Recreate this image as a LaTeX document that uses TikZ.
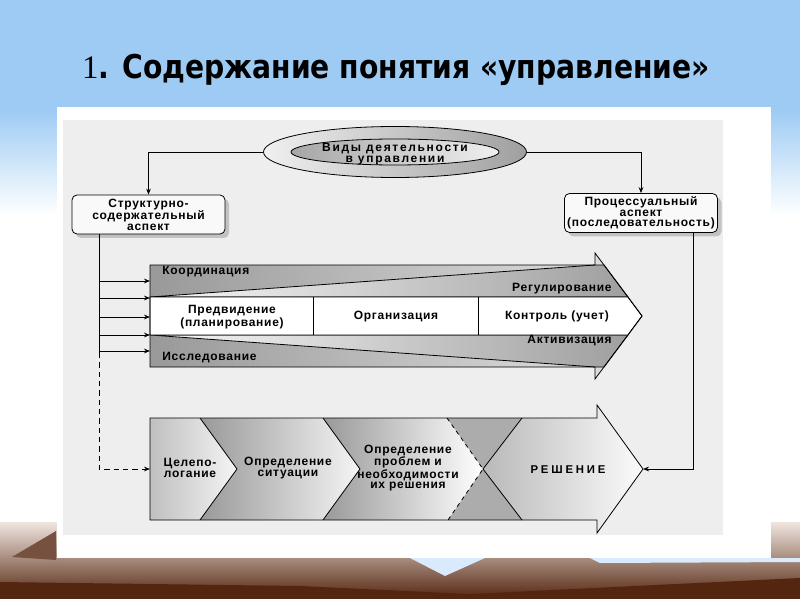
\documentclass[tikz,border=0pt]{standalone}
\usepackage{fontspec}
\setmainfont{Liberation Sans}
\newfontfamily\dfont{Liberation Sans}[LetterSpace=6]
\newfontfamily\dfontw{Liberation Sans}[LetterSpace=14]
\newfontfamily\rfont{Liberation Sans}[LetterSpace=25]
\newfontfamily\tfont{DejaVu Sans}[FakeStretch=0.86]
\newfontfamily\nfont{Liberation Serif}
\usetikzlibrary{arrows.meta,positioning,shapes.geometric,shadows,calc}
\definecolor{sky}{HTML}{9DCBF4}
\definecolor{panelgray}{HTML}{EEEEEE}
\definecolor{brownlt}{HTML}{C29A82}
\definecolor{browndk}{HTML}{55260F}
\newlength\pxu
\setlength\pxu{0.75pt}

\begin{document}
\begin{tikzpicture}[
      x=0.75pt, y=-0.75pt,
      line width=0.6pt,
      lbl/.style={font={\dfont\bfseries\fontsize{9}{7.8}\selectfont}, align=center, inner sep=0pt},
      lblw/.style={font={\dfontw\bfseries\fontsize{9}{7.8}\selectfont}, align=center, inner sep=0pt},
      arr/.style={-{Stealth[length=4.5pt,width=3.5pt]}},
      aspect/.style={lbl, draw, rounded corners=5\pxu, fill=gray!5,
        minimum width=153\pxu, minimum height=39\pxu,
        drop shadow={shadow xshift=3pt, shadow yshift=-3pt, fill=gray!70, opacity=0.6}},
      band/.style={draw}
  ]
    \useasboundingbox (0,0) rectangle (800,599);
    % slide background
    \fill[sky] (0,0) rectangle (800,110);
    \shade[top color=sky, bottom color=white] (0,110) rectangle (800,215);
    \shade[top color=brownlt!25, middle color=brownlt, bottom color=browndk] (0,522) rectangle (800,599);
    \fill[browndk!80] (12,557) -- (56,531) -- (56,560) -- cycle;
    \fill[browndk] (0,582) -- (300,586) -- (470,594) -- (800,578) -- (800,599) -- (0,599) -- cycle;
    \fill[sky!40!white] (410,558) -- (485,558) -- (445,576) -- cycle;
    \fill[sky!40!white] (590,558) -- (800,558) -- (800,562) -- (600,563) -- cycle;
    \fill[white] (57,107) rectangle (771,558);
    \fill[panelgray] (63,120) rectangle (723,535);

    \node[anchor=base, font={\tfont\bfseries\fontsize{24.6}{28}\selectfont}] (title) at (396,79)
      {{\nfont\mdseries 1}. Содержание понятия «управление»};

    % top part
    \node[ellipse, draw, minimum width=263\pxu, minimum height=51\pxu, inner sep=0pt,
          left color=gray!12, right color=gray!75] (vidy) at (395,152) {};
    \node[ellipse, draw, minimum width=208\pxu, minimum height=26\pxu, inner sep=0pt,
          left color=gray!70, right color=gray!12] (vidyin) at (vidy.center) {};
    \node[lblw] (vidytxt) at (395,154) {Виды деятельности\\в управлении};

    \node[aspect] (struct) at (148.5,214.5) {Структурно-\\содержательный\\аспект};
    \node[aspect] (proc) at (641,213) {Процессуальный\\аспект\\(последовательность)};

    \draw[arr] (vidy.west) -| (struct.north);
    \draw[arr] (vidy.east) -| (proc.north);

    % upper arrow
    \coordinate (uaw) at (150,316);
    \shade[left color=gray!80, right color=gray!22] (150,265) -- (595,265) -- (595,253) -- (642,316)
      -- (595,379) -- (595,367) -- (150,367) -- cycle;
    \path[band, left color=gray!6, right color=gray!75] (150,297) -- (595,265) -- (604,265) -- (628,297) -- cycle;
    \path[band, left color=gray!6, right color=gray!75] (150,335) -- (628,335) -- (604,367) -- (595,367) -- cycle;
    \path[band, fill=white] (150,297) -- (628,297) -- (642,316) -- (628,335) -- (150,335) -- cycle;
    \draw (313,297) -- (313,335);
    \draw (478,297) -- (478,335);
    \draw (150,265) -- (595,265) -- (595,253) -- (642,316) -- (595,379) -- (595,367) -- (150,367) -- cycle;

    \node[lbl, anchor=west] (koord) at (162,272) {Координация};
    \node[lbl, anchor=east] (regul) at (612,289) {Регулирование};
    \node[lbl] (predv) at (232,317) {Предвидение\\(планирование)};
    \node[lbl] (organ) at (396,317) {Организация};
    \node[lbl] (kontr) at (557,316) {Контроль (учет)};
    \node[lbl, anchor=east] (aktiv) at (612,341) {Активизация};
    \node[lbl, anchor=west] (issled) at (162,358) {Исследование};

    % lower arrow
    \coordinate (bain) at (150,469);
    \coordinate (batip) at (643,469);
    \path[left color=gray!50, right color=gray!8] (150,418) -- (200,418) -- (237,469) -- (200,520) -- (150,520) -- cycle;
    \path[left color=gray!80, right color=gray!8] (200,418) -- (323,418) -- (360,469) -- (323,520) -- (200,520) -- (237,469) -- cycle;
    \path[left color=gray!80, right color=white] (323,418) -- (447,418) -- (483,469) -- (448,520) -- (323,520) -- (360,469) -- cycle;
    \fill[gray!65] (447,418) -- (522,418) -- (483,469) -- cycle;
    \fill[gray!65] (448,520) -- (522,520) -- (483,469) -- cycle;
    \path[left color=gray!55, right color=gray!3] (522,418) -- (597,418) -- (597,405) -- (643,469)
      -- (597,533) -- (597,520) -- (522,520) -- (483,469) -- cycle;
    \draw (200,418) -- (237,469) -- (200,520);
    \draw (323,418) -- (360,469) -- (323,520);
    \draw[dashed] (447,418) -- (483,469) -- (448,520);
    \draw (522,418) -- (483,469) -- (522,520);
    \draw (150,418) -- (597,418) -- (597,405) -- (643,469) -- (597,533) -- (597,520) -- (150,520) -- cycle;

    \node[lbl] (celep) at (190,468) {Целепо-\\логание};
    \node[lbl] (situac) at (288,468) {Определение\\ситуации};
    \node[lbl] (problem) at (408,468) {Определение\\проблем и\\необходимости\\их решения};
    \node[lbl, font={\rfont\bfseries\fontsize{8.5}{10}\selectfont}] (resh) at (568,470) {РЕШЕНИЕ};

    % trunks
    \coordinate (ltrunk) at (99,353);
    \coordinate (rtrunk) at (693,300);
    \draw (struct.south -| ltrunk) -- (ltrunk);
    \foreach \y in {281,298,317,335,351} {
      \path (0,\y) coordinate (h);
      \draw[arr] (ltrunk |- h) -- (uaw |- h);
    }
    \draw[arr, dash pattern=on 4pt off 3pt] (ltrunk) |- (bain);
    \draw[arr] (proc.south -| rtrunk) |- (batip);
  \end{tikzpicture}
\end{document}
